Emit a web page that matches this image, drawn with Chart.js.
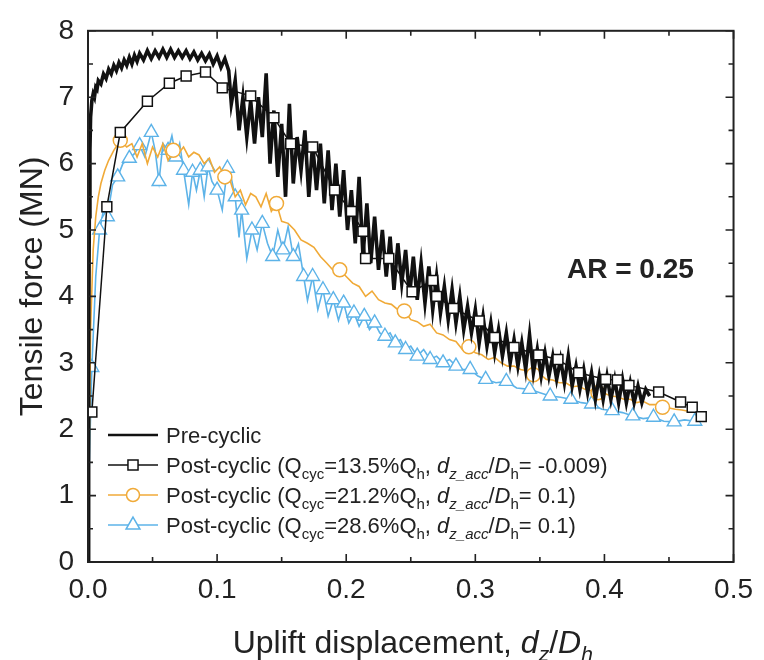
<!DOCTYPE html>
<html><head><meta charset="utf-8">
<script src="https://cdn.jsdelivr.net/npm/chart.js@4.4.1/dist/chart.umd.min.js"></script>
<style>html,body{margin:0;padding:0;background:#fff;}#wrap{width:764px;height:660px;position:relative;}</style>
</head><body><div id="wrap"><canvas id="c" width="764" height="660"></canvas></div>
<script>
// ---------- DATA ----------
const xRange = [0, 0.5];
const yRange = [0, 8];
const xStep = 0.1;
const yStep = 1;

// Pre-cyclic
const preX = [0, 0.0005, 0.001, 0.0015, 0.002, 0.003, 0.004, 0.005, 0.006, 0.007, 0.008,
  0.01, 0.012, 0.014, 0.016, 0.018, 0.02, 0.022, 0.024, 0.026, 0.028, 0.03, 0.032, 0.034, 0.036, 0.038, 0.04,
  0.043, 0.046, 0.049, 0.052, 0.055, 0.058, 0.061, 0.064, 0.067, 0.07, 0.073, 0.076, 0.079, 0.082, 0.085, 0.088, 0.091, 0.094, 0.097, 0.1, 0.103, 0.106, 0.109,
  0.111, 0.114, 0.117, 0.12, 0.123, 0.126, 0.129, 0.132, 0.135, 0.138,
  0.141, 0.144, 0.147, 0.15, 0.153, 0.156, 0.159, 0.162, 0.165, 0.168,
  0.171, 0.174, 0.177, 0.18, 0.183, 0.186, 0.189, 0.192, 0.195, 0.198,
  0.201, 0.204, 0.207, 0.21, 0.213, 0.216, 0.219, 0.222, 0.225, 0.228,
  0.231, 0.234, 0.237, 0.24, 0.243, 0.246, 0.249, 0.252, 0.255, 0.258,
  0.261, 0.264, 0.267, 0.27, 0.273, 0.276, 0.279, 0.282, 0.285, 0.288,
  0.291, 0.294, 0.297, 0.3, 0.303, 0.306, 0.309, 0.312, 0.315, 0.318,
  0.321, 0.324, 0.327, 0.33, 0.333, 0.336, 0.339, 0.342, 0.345, 0.348,
  0.351, 0.354, 0.357, 0.36, 0.363, 0.366, 0.369, 0.372, 0.375, 0.378,
  0.381, 0.384, 0.387, 0.39, 0.393, 0.396, 0.399, 0.402, 0.405, 0.408,
  0.411, 0.414, 0.417, 0.42, 0.423, 0.426, 0.429, 0.432, 0.435];
const preY = [0, 3.0, 5.2, 6.2, 6.7, 6.95, 7.05, 7.0, 7.15, 7.12,
  7.25, 7.2, 7.35, 7.28, 7.42, 7.35, 7.48, 7.4, 7.52, 7.44,
  7.56, 7.48, 7.6, 7.5, 7.63, 7.54, 7.66, 7.56, 7.7, 7.58,
  7.7, 7.6, 7.72, 7.6, 7.72, 7.6, 7.7, 7.6, 7.7, 7.58,
  7.68, 7.56, 7.66, 7.55, 7.65, 7.5, 7.62, 7.45, 7.58, 7.4,
  6.9, 7.25, 6.5, 7.0, 6.4, 6.95, 6.3, 7.0, 6.4, 7.36,
  6.0, 6.8, 5.8, 6.6, 5.5, 6.9, 5.7, 6.4, 5.9, 6.5,
  5.5, 6.3, 5.6, 6.3, 5.4, 6.2, 5.3, 6.0, 5.2, 5.9,
  5.0, 5.6, 4.8, 5.8, 4.6, 5.4, 4.5, 5.2, 4.4, 5.0,
  4.3, 4.9, 4.1, 4.8, 4.2, 4.7, 4.0, 4.6, 3.95, 4.5,
  3.9, 4.45, 3.8, 4.3, 3.75, 4.15, 3.65, 4.1, 3.6, 4.0,
  3.5, 3.85, 3.45, 3.8, 3.3, 3.7, 3.25, 3.6, 3.15, 3.5,
  3.1, 3.45, 3.0, 3.35, 2.95, 3.3, 2.9, 3.42, 2.85, 3.2,
  2.8, 3.15, 2.8, 3.1, 2.75, 3.05, 2.7, 3.1, 2.65, 2.95,
  2.6, 2.9, 2.55, 2.85, 2.45, 2.8, 2.45, 2.8, 2.45, 2.75,
  2.4, 2.75, 2.4, 2.7, 2.4, 2.65, 2.4, 2.6, 2.5];

// Post-cyclic, Qcyc = 13.5% Qh (squares)
const sqX = [0.003, 0.0146, 0.025, 0.046, 0.063, 0.076, 0.091, 0.104, 0.126, 0.144,
  0.157, 0.174, 0.191, 0.204, 0.213, 0.215, 0.233, 0.251, 0.267, 0.27,
  0.283, 0.303, 0.315, 0.33, 0.349, 0.364, 0.38, 0.401, 0.41, 0.419,
  0.442, 0.459, 0.468, 0.475];
const sqY = [2.26, 5.35, 6.47, 6.94, 7.21, 7.32, 7.38, 7.14, 7.02, 6.69,
  6.3, 6.25, 5.6, 5.28, 4.98, 4.57, 4.57, 4.07, 4.24, 4.0,
  3.82, 3.63, 3.38, 3.23, 3.12, 3.05, 2.85, 2.75, 2.74, 2.66,
  2.56, 2.41, 2.33, 2.19];

// Post-cyclic, Qcyc = 21.2% Qh (circles)
const orX = [0, 0.001, 0.002, 0.004, 0.006, 0.008, 0.01, 0.013, 0.016, 0.02,
  0.025, 0.03,
  0.034, 0.038, 0.042, 0.046, 0.05, 0.054, 0.058, 0.062, 0.066, 0.07,
  0.074, 0.078, 0.082, 0.086, 0.09, 0.094, 0.098, 0.102, 0.106, 0.11,
  0.114, 0.118, 0.122, 0.126, 0.13, 0.134, 0.138, 0.142, 0.146, 0.15,
  0.155, 0.16, 0.165, 0.17, 0.175, 0.18, 0.185, 0.19, 0.195, 0.2,
  0.205, 0.21, 0.215, 0.22, 0.225, 0.23, 0.235, 0.24, 0.245, 0.25,
  0.255, 0.26, 0.265, 0.27, 0.275, 0.28, 0.285, 0.29, 0.295, 0.3,
  0.305, 0.31, 0.315, 0.32, 0.325, 0.33, 0.335, 0.34, 0.345, 0.35,
  0.355, 0.36, 0.365, 0.37, 0.375, 0.38, 0.385, 0.39, 0.395, 0.4,
  0.405, 0.41, 0.415, 0.42, 0.425, 0.43, 0.435, 0.44, 0.445, 0.45,
  0.455, 0.46, 0.465, 0.47, 0.475];
const orY = [0, 1.7, 3.5, 4.7, 5.2, 5.5, 5.7, 5.9, 6.05, 6.2,
  6.35, 6.25,
  6.3, 6.1, 6.3, 6.0, 6.25, 6.1, 6.3, 6.05, 6.2, 6.15,
  6.25, 6.1, 6.17, 6.13, 6.0, 6.08, 5.87, 5.95, 5.8, 5.75,
  5.5, 5.6, 5.38, 5.55, 5.5, 5.35, 5.55, 5.28, 5.4, 5.13,
  5.1, 5.0, 4.85, 4.8, 4.74, 4.6, 4.5, 4.39, 4.4, 4.3,
  4.2, 4.15, 4.0, 4.08, 3.95, 3.9, 3.88, 3.8, 3.78, 3.65,
  3.62, 3.55, 3.58, 3.45, 3.42, 3.35, 3.32, 3.2, 3.24, 3.15,
  3.12, 3.05, 3.08, 3.0, 2.95, 2.95, 2.9, 2.88, 2.82, 2.83,
  2.75, 2.74, 2.7, 2.7, 2.64, 2.65, 2.6, 2.58, 2.55, 2.54,
  2.5, 2.49, 2.45, 2.45, 2.4, 2.42, 2.37, 2.37, 2.33, 2.32,
  2.3, 2.29, 2.27, 2.26, 2.23];

// Post-cyclic, Qcyc = 28.6% Qh (triangles)
const buX = [0, 0.001, 0.003, 0.006, 0.009, 0.012, 0.015, 0.019, 0.023, 0.027,
  0.032, 0.036, 0.04, 0.044, 0.049, 0.052, 0.055, 0.058, 0.062, 0.065,
  0.068, 0.071, 0.074, 0.078, 0.081, 0.084, 0.087, 0.09, 0.093, 0.096,
  0.1, 0.104, 0.108, 0.111, 0.114, 0.117, 0.119, 0.123, 0.127, 0.131,
  0.135, 0.139, 0.143, 0.147, 0.151, 0.155, 0.159, 0.163, 0.167, 0.17,
  0.174, 0.178, 0.182, 0.186, 0.19, 0.194, 0.198, 0.202, 0.206, 0.21,
  0.214, 0.218, 0.222, 0.226, 0.23, 0.234, 0.238, 0.242, 0.246, 0.25,
  0.255, 0.26, 0.265, 0.27, 0.275, 0.28, 0.285, 0.29, 0.296, 0.302,
  0.308, 0.316, 0.324, 0.332, 0.342, 0.35, 0.358, 0.366, 0.374, 0.382,
  0.39, 0.398, 0.406, 0.414, 0.422, 0.43, 0.438, 0.446, 0.454, 0.462,
  0.47];
const buY = [0, 1.5, 2.93, 4.3, 5.0, 5.3, 5.2, 5.68, 5.8, 6.0,
  6.08, 6.15, 6.27, 6.1, 6.47, 6.2, 5.73, 6.3, 6.2, 6.42,
  6.1, 6.3, 5.9, 5.38, 5.87, 5.6, 5.9, 5.5, 5.95, 5.73,
  5.6, 5.3, 5.93, 5.78, 5.5, 4.89, 5.3, 4.57, 5.0, 4.7,
  5.1, 4.8, 4.6, 5.0, 4.7, 5.05, 4.6, 4.79, 4.3, 3.94,
  4.3, 3.8, 4.1, 3.7, 3.95, 3.64, 3.9, 3.6, 3.75, 3.55,
  3.7, 3.5, 3.6, 3.45, 3.4, 3.45, 3.3, 3.35, 3.2, 3.25,
  3.1, 3.2, 3.05, 3.1, 3.0, 3.05, 2.95, 2.9, 2.9, 2.8,
  2.75, 2.7, 2.72, 2.62, 2.6, 2.55, 2.5, 2.48, 2.45, 2.4,
  2.38, 2.3, 2.28, 2.25, 2.2, 2.16, 2.18, 2.12, 2.11, 2.14,
  2.12];

const seriesNames = [
  'Pre-cyclic',
  'Post-cyclic (Qcyc=13.5%Qh, dz_acc/Dh= -0.009)',
  'Post-cyclic (Qcyc=21.2%Qh, dz_acc/Dh= 0.1)',
  'Post-cyclic (Qcyc=28.6%Qh, dz_acc/Dh= 0.1)'
];
const legendRich = [
  [{t:'Pre-cyclic'}],
  [{t:'Post-cyclic (Q'},{t:'cyc',sub:1},{t:'=13.5%Q'},{t:'h',sub:1},{t:', '},{t:'d',it:1},{t:'z_acc',sub:1,it:1},{t:'/'},{t:'D',it:1},{t:'h',sub:1},{t:'= -0.009)'}],
  [{t:'Post-cyclic (Q'},{t:'cyc',sub:1},{t:'=21.2%Q'},{t:'h',sub:1},{t:', '},{t:'d',it:1},{t:'z_acc',sub:1,it:1},{t:'/'},{t:'D',it:1},{t:'h',sub:1},{t:'= 0.1)'}],
  [{t:'Post-cyclic (Q'},{t:'cyc',sub:1},{t:'=28.6%Q'},{t:'h',sub:1},{t:', '},{t:'d',it:1},{t:'z_acc',sub:1,it:1},{t:'/'},{t:'D',it:1},{t:'h',sub:1},{t:'= 0.1)'}]
];
const yTitle = 'Tensile force (MN)';
const xTitleRich = [{t:'Uplift displacement, '},{t:'d',it:1},{t:'z',sub:1,it:1},{t:'/'},{t:'D',it:1},{t:'h',sub:1,it:1}];
const annotationText = 'AR = 0.25';

// ---------- STYLE ----------
const FONT = '"Liberation Sans", Arial, Helvetica, sans-serif';
const BLACK = '#111111';
const ORANGE = '#F0AA38';
const BLUE = '#5DB3E8';

function pts(xs, ys) { const n = Math.min(xs.length, ys.length); const a = []; for (let i = 0; i < n; i++) a.push({x: xs[i], y: ys[i]}); return a; }

const datasets = [
  {label: seriesNames[0], data: pts(preX, preY), borderColor: BLACK, borderWidth: 3.6, pointRadius: 0, order: 1},
  {label: seriesNames[1], data: pts(sqX, sqY), borderColor: BLACK, borderWidth: 1.5, pointStyle: 'rect', pointRadius: 7,
    pointBackgroundColor: '#fff', pointBorderColor: BLACK, pointBorderWidth: 1.5, order: 0},
  {label: seriesNames[2], data: pts(orX, orY), borderColor: ORANGE, borderWidth: 1.6, pointStyle: 'circle',
    pointRadius: c => (c.dataIndex > 0 && c.dataIndex % 10 === 0) ? 7 : 0,
    pointBackgroundColor: '#fff', pointBorderColor: ORANGE, pointBorderWidth: 1.5, order: 2},
  {label: seriesNames[3], data: pts(buX, buY), borderColor: BLUE, borderWidth: 1.6, pointStyle: 'triangle',
    pointRadius: c => (c.dataIndex > 1 && c.dataIndex % 2 === 0) ? 8 : 0,
    pointBackgroundColor: '#fff', pointBorderColor: BLUE, pointBorderWidth: 1.4, order: 3}
];

function drawRich(ctx, segs, x, y, size, align, subScale) {
  const subSize = Math.round(size * (subScale || 0.62));
  const fontOf = s => (s.it ? 'italic ' : '') + (s.sub ? subSize : size) + 'px ' + FONT;
  let w = 0;
  segs.forEach(s => { ctx.font = fontOf(s); w += ctx.measureText(s.t).width; });
  let cx = align === 'center' ? x - w / 2 : x;
  ctx.textAlign = 'left';
  ctx.textBaseline = 'alphabetic';
  segs.forEach(s => {
    ctx.font = fontOf(s);
    ctx.fillText(s.t, cx, s.sub ? y + size * 0.25 : y);
    cx += ctx.measureText(s.t).width;
  });
}

function drawMarker(ctx, style, x, y, r, color, lw) {
  ctx.save();
  ctx.fillStyle = '#fff'; ctx.strokeStyle = color; ctx.lineWidth = lw;
  ctx.beginPath();
  if (style === 'rect') { ctx.rect(x - r*0.72, y - r*0.72, r*1.44, r*1.44); }
  else if (style === 'circle') { ctx.arc(x, y, r, 0, Math.PI * 2); }
  else if (style === 'triangle') {
    ctx.moveTo(x, y - r); ctx.lineTo(x + r * 0.866, y + r * 0.5); ctx.lineTo(x - r * 0.866, y + r * 0.5); ctx.closePath();
  }
  ctx.fill(); ctx.stroke();
  ctx.restore();
}

const decor = {
  id: 'decor',
  afterDraw(chart) {
    const ctx = chart.ctx, a = chart.chartArea;
    const xs = chart.scales.x, ys = chart.scales.y;
    ctx.save();
    ctx.strokeStyle = '#222'; ctx.lineWidth = 2;
    ctx.strokeRect(a.left, a.top, a.right - a.left, a.bottom - a.top);
    ctx.lineWidth = 1.6;
    const xt = xs.ticks.map(t => t.value), yt = ys.ticks.map(t => t.value);
    const tick = (vals, len, horiz) => {
      vals.forEach(v => {
        if (horiz) {
          const p = xs.getPixelForValue(v);
          ctx.beginPath(); ctx.moveTo(p, a.bottom); ctx.lineTo(p, a.bottom - len);
          ctx.moveTo(p, a.top); ctx.lineTo(p, a.top + len); ctx.stroke();
        } else {
          const p = ys.getPixelForValue(v);
          ctx.beginPath(); ctx.moveTo(a.left, p); ctx.lineTo(a.left + len, p);
          ctx.moveTo(a.right, p); ctx.lineTo(a.right - len, p); ctx.stroke();
        }
      });
    };
    const mids = arr => arr.slice(1).map((v, i) => (v + arr[i]) / 2);
    tick(xt, 8, true); tick(mids(xt), 5, true);
    tick(yt, 8, false); tick(mids(yt), 5, false);

    ctx.fillStyle = '#222';
    drawRich(ctx, xTitleRich, (a.left + a.right) / 2 + 2, 653, 32, 'center', 0.65);
    ctx.save();
    ctx.translate(33, (a.top + a.bottom) / 2 - 10);
    ctx.rotate(-Math.PI / 2);
    ctx.font = '32px ' + FONT; ctx.textAlign = 'center'; ctx.textBaseline = 'middle';
    ctx.fillText(yTitle, 0, 0);
    ctx.restore();

    ctx.font = 'bold 28px ' + FONT; ctx.textAlign = 'left'; ctx.textBaseline = 'alphabetic';
    ctx.fillText(annotationText, 567, 278);

    const rowY = [435, 465, 495, 525];
    chart.data.datasets.forEach((ds, i) => {
      const y = rowY[i];
      ctx.strokeStyle = ds.borderColor; ctx.lineWidth = i === 0 ? 2.5 : 1.6;
      ctx.beginPath(); ctx.moveTo(108, y); ctx.lineTo(158, y); ctx.stroke();
      if (ds.pointStyle) drawMarker(ctx, ds.pointStyle, 133, y, ds.pointStyle === 'rect' ? 7 : (ds.pointStyle === 'triangle' ? 8 : 6.5), ds.borderColor, 1.5);
      ctx.fillStyle = '#222';
      drawRich(ctx, legendRich[i], 166, y + 8, 22, 'left', 0.68);
    });
    ctx.restore();
  }
};

new Chart(document.getElementById('c'), {
  type: 'line',
  data: {datasets},
  options: {
    responsive: false, animation: false, devicePixelRatio: 1,
    layout: {padding: {top: 24, right: 25, left: 0, bottom: 0}},
    plugins: {legend: {display: false}, tooltip: {enabled: false}},
    elements: {line: {tension: 0}},
    scales: {
      x: {type: 'linear', min: xRange[0], max: xRange[1],
        grid: {display: false, drawTicks: false}, border: {display: false},
        ticks: {stepSize: xStep, padding: 11, color: '#222', font: {family: FONT, size: 28}, callback: v => v.toFixed(1), maxRotation: 0},
        afterFit: s => { s.height = 98; }},
      y: {type: 'linear', min: yRange[0], max: yRange[1],
        grid: {display: false, drawTicks: false}, border: {display: false},
        ticks: {stepSize: yStep, padding: 14, color: '#222', font: {family: FONT, size: 28}},
        afterFit: s => { s.width = 88; }}
    }
  },
  plugins: [decor]
});
</script></body></html>
